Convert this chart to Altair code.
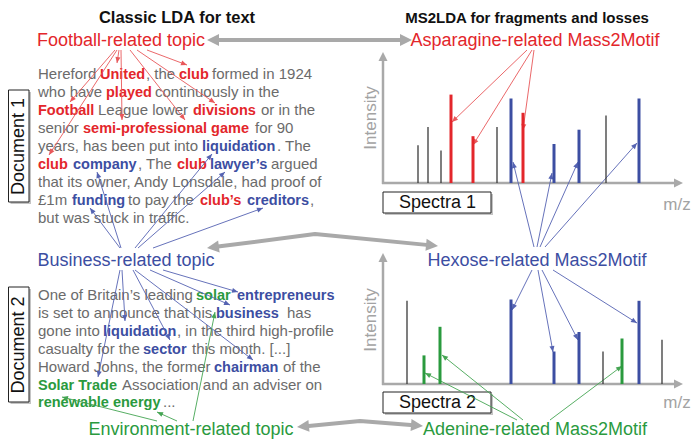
import math
import altair as alt
import pandas as pd

FONT = "Liberation Sans"
RED, BLUE, GREEN = "#e3262b", "#3c4ea2", "#2a9a3e"
TXT_GRAY, LINE_GRAY, LABEL_GRAY = "#6b6b6b", "#a9a9a9", "#a3a3a3"
ARROW_RED, ARROW_BLUE, ARROW_GREEN = "#e8585a", "#5563b2", "#45a553"

# ---------------- spectra (m/z, relative intensity, motif) ----------------
spec1_mz = [35, 45, 58, 68, 90, 114, 128, 140, 171, 196, 223, 256]
spec1_int = [29, 43, 25, 68, 36, 43, 65, 54, 30, 41, 52, 65]
spec1_motif = ["none", "none", "none", "asparagine", "asparagine", "none",
               "hexose", "asparagine", "hexose", "hexose", "none", "hexose"]
spec2_mz = [24, 41, 57, 128, 171, 196, 220, 239, 256, 279]
spec2_int = [64, 22, 44, 65, 25, 40, 25, 35, 64, 34]
spec2_motif = ["none", "adenine", "adenine", "hexose", "hexose", "hexose",
               "none", "adenine", "hexose", "none"]
motif_names = ["none", "asparagine", "hexose", "adenine"]
motif_colors = ["#3a3a3a", RED, BLUE, GREEN]

# ---------------- text content ----------------
title_text = ["Classic LDA for text", "MS2LDA for fragments and losses"]
title_x = [177, 527]
title_y = [22.5, 22.5]
title_size = [16.5, 15]

topic_text = ["Football-related topic", "Asparagine-related Mass2Motif",
              "Business-related topic", "Hexose-related Mass2Motif",
              "Environment-related topic", "Adenine-related Mass2Motif"]
topic_x = [121, 535, 126, 537, 191, 535]
topic_y = [46, 46, 266, 266, 435, 435]
topic_color = [RED, RED, BLUE, BLUE, GREEN, GREEN]

# segments: (text, style, x-start); style n=plain, r/b/g = bold topic colour
doc1_lines = [
    [("Hereford", "n", 38), ("United", "r", 100), (", the", "n", 146), ("club", "r", 179), ("formed in 1924", "n", 212)],
    [("who have", "n", 38), ("played", "r", 106), ("continuously in the", "n", 155)],
    [("Football", "r", 38), ("League lower", "n", 98), ("divisions", "r", 193), ("or in the", "n", 261)],
    [("senior", "n", 38), ("semi-professional game", "r", 83), ("for 90", "n", 255)],
    [("years, has been put into", "n", 38), ("liquidation", "b", 202), (". The", "n", 277)],
    [("club", "r", 38), ("company", "b", 73), (", The", "n", 138), ("club", "r", 177), ("lawyer\u2019s", "b", 210), ("argued", "n", 271)],
    [("that its owner, Andy Lonsdale, had proof of", "n", 38)],
    [("\u00a31m", "n", 38), ("funding", "b", 72), ("to pay the", "n", 128), ("club\u2019s", "r", 200), ("creditors", "b", 247), (",", "n", 310)],
    [("but was stuck in traffic.", "n", 38)],
]
doc1_baseline, doc1_step = 78.5, 18.0

doc2_lines = [
    [("One of Britain\u2019s leading", "n", 38), ("solar", "g", 196), ("entrepreneurs", "b", 237)],
    [("is set to announce that his", "n", 38), ("business", "b", 216), ("has", "n", 287)],
    [("gone into", "n", 38), ("liquidation", "b", 103), (", in the third high-profile", "n", 177)],
    [("casualty for the", "n", 38), ("sector", "b", 143), ("this month. [...]", "n", 192)],
    [("Howard Johns, the former", "n", 38), ("chairman", "b", 214), ("of the", "n", 283)],
    [("Solar Trade", "g", 38), ("Association and an adviser on", "n", 122)],
    [("renewable energy", "g", 38), ("...", "n", 163)],
]
doc2_baseline, doc2_step = 300.0, 17.9

style_color = {"n": TXT_GRAY, "r": RED, "b": BLUE, "g": GREEN}

# thin arrows: start -> tip
thin_arrows = [
    (115, 50, 70, 102, ARROW_RED), (117, 50, 49, 155, ARROW_RED), (119, 50, 117, 63, ARROW_RED),
    (121, 50, 122, 120, ARROW_RED), (130, 50, 185, 120, ARROW_RED), (137, 50, 215, 103, ARROW_RED),
    (147, 50, 187, 65, ARROW_RED),
    (120, 248, 90, 208, ARROW_BLUE), (121, 248, 97, 172, ARROW_BLUE), (135, 248, 212, 154, ARROW_BLUE),
    (138, 248, 225, 172, ARROW_BLUE), (153, 248, 263, 208, ARROW_BLUE),
    (120, 270, 98, 377, ARROW_BLUE), (122, 270, 125, 321, ARROW_BLUE), (133, 270, 170, 340, ARROW_BLUE),
    (135, 270, 253, 360, ARROW_BLUE), (150, 270, 230, 305, ARROW_BLUE), (163, 270, 238, 292, ARROW_BLUE),
    (157, 421, 62, 397, ARROW_GREEN), (177, 421, 157, 412, ARROW_GREEN), (193, 421, 215, 312, ARROW_GREEN),
    (527, 50, 452, 122, ARROW_RED), (532, 50, 473, 145, ARROW_RED), (534, 50, 523, 130, ARROW_RED),
    (534, 247, 513, 162, ARROW_BLUE), (537, 247, 552, 173, ARROW_BLUE), (540, 247, 578, 162, ARROW_BLUE),
    (545, 247, 637, 143, ARROW_BLUE),
    (532, 270, 512, 310, ARROW_BLUE), (538, 270, 553, 352, ARROW_BLUE), (542, 270, 578, 340, ARROW_BLUE),
    (553, 270, 637, 323, ARROW_BLUE),
    (517, 420, 425, 373, ARROW_GREEN), (523, 420, 442, 355, ARROW_GREEN), (550, 420, 622, 366, ARROW_GREEN),
]

# thick grey double arrows (polylines)
link_paths = [
    [(207, 40), (412, 40)],
    [(207, 248), (315, 234), (438, 246)],
    [(297, 427), (360, 421), (423, 426)],
]
# spectrum axes (start -> arrow tip)
axis_arrows = [(383, 184, 383, 52), (382, 183, 683, 183), (383, 385, 383, 253), (382, 384, 683, 384)]

boxes = [  # x, x2, y, y2
    (8.5, 29, 90, 202), (8.5, 29, 287, 402), (383, 491, 192, 213), (383, 491, 392, 413)]
box_text = ["Document 1", "Document 2", "Spectra 1", "Spectra 2"]
box_angle = [270, 270, 0, 0]

axis_label_text = ["Intensity", "Intensity", "m/z", "m/z"]
axis_label_x = [371, 371, 677, 677]
axis_label_y = [118, 320, 210, 408]
axis_label_angle = [270, 270, 0, 0]
axis_label_baseline = ["middle", "middle", "alphabetic", "alphabetic"]

# ---------------- helpers ----------------
XS = alt.Scale(domain=[8, 692], nice=False, zero=False)
YS = alt.Scale(domain=[8, 439], nice=False, zero=False, reverse=True)


def X(f):
    return alt.X(f, type="quantitative", scale=XS, axis=None)


def Y(f):
    return alt.Y(f, type="quantitative", scale=YS, axis=None)


def ang(x1, y1, x2, y2):
    return math.degrees(math.atan2(x2 - x1, -(y2 - y1))) % 360


def shorten(x1, y1, x2, y2, d):
    L = math.hypot(x2 - x1, y2 - y1)
    return x2 - (x2 - x1) / L * d, y2 - (y2 - y1) / L * d


HEAD = "M0,0L-0.42,1L0.42,1Z"
BIGHEAD = "M0,0L-0.5,1L0.5,1Z"

layers = []

# boxes with shadow
bx = pd.DataFrame(boxes, columns=["x", "x2", "y", "y2"])
bx["sx"], bx["sx2"], bx["sy"], bx["sy2"] = bx.x + 2, bx.x2 + 2, bx.y + 2, bx.y2 + 2
bx["text"], bx["angle"] = box_text, box_angle
bx["cx"], bx["cy"] = (bx.x + bx.x2) / 2 + 0.5, (bx.y + bx.y2) / 2 + 0.5
layers.append(alt.Chart(bx).mark_rect(color="#c4c4c4").encode(x=X("sx"), x2="sx2:Q", y=Y("sy"), y2="sy2:Q"))
layers.append(alt.Chart(bx).mark_rect(fill="white", stroke="#222222", strokeWidth=1).encode(
    x=X("x"), x2="x2:Q", y=Y("y"), y2="y2:Q"))
layers.append(alt.Chart(bx).mark_text(font=FONT, fontSize=18, color="#111111", baseline="middle", align="center").encode(
    x=X("cx"), y=Y("cy"), text="text:N", angle=alt.Angle("angle:Q", scale=None)))

# spectrum axes
ax_rows, ax_heads = [], []
for (x1, y1, x2, y2) in axis_arrows:
    ex, ey = shorten(x1, y1, x2, y2, 7)
    ax_rows.append((x1, y1, ex, ey))
    ax_heads.append((x2, y2, ang(x1, y1, x2, y2)))
axd = pd.DataFrame(ax_rows, columns=["x1", "y1", "x2", "y2"])
axh = pd.DataFrame(ax_heads, columns=["x", "y", "ang"])
layers.append(alt.Chart(axd).mark_rule(color=LINE_GRAY, strokeWidth=2.5).encode(
    x=X("x1"), y=Y("y1"), x2="x2:Q", y2="y2:Q"))
layers.append(alt.Chart(axh).mark_point(shape=BIGHEAD, filled=True, size=324, opacity=1, strokeWidth=0,
                                         color=LINE_GRAY).encode(
    x=X("x"), y=Y("y"), angle=alt.Angle("ang:Q", scale=None)))

al = pd.DataFrame({"text": axis_label_text, "x": axis_label_x, "y": axis_label_y, "angle": axis_label_angle})
for bl in ["middle", "alphabetic"]:
    sub = al[[b == bl for b in axis_label_baseline]]
    layers.append(alt.Chart(sub).mark_text(font=FONT, fontSize=17, color=LABEL_GRAY, baseline=bl, align="center").encode(
        x=X("x"), y=Y("y"), text="text:N", angle=alt.Angle("angle:Q", scale=None)))

# thick grey links
lk_rows, lk_heads = [], []
for i, pts in enumerate(link_paths):
    pts = list(pts)
    a = shorten(pts[1][0], pts[1][1], pts[0][0], pts[0][1], 9)
    b = shorten(pts[-2][0], pts[-2][1], pts[-1][0], pts[-1][1], 9)
    draw = [a] + pts[1:-1] + [b]
    for j, (px, py) in enumerate(draw):
        lk_rows.append((i, j, px, py))
    lk_heads.append((pts[0][0], pts[0][1], ang(pts[1][0], pts[1][1], pts[0][0], pts[0][1])))
    lk_heads.append((pts[-1][0], pts[-1][1], ang(pts[-2][0], pts[-2][1], pts[-1][0], pts[-1][1])))
lkd = pd.DataFrame(lk_rows, columns=["id", "ord", "x", "y"])
lkh = pd.DataFrame(lk_heads, columns=["x", "y", "ang"])
layers.append(alt.Chart(lkd).mark_line(color=LINE_GRAY, strokeWidth=4, strokeJoin="round").encode(
    x=X("x"), y=Y("y"), detail="id:N", order="ord:Q"))
layers.append(alt.Chart(lkh).mark_point(shape=BIGHEAD, filled=True, size=576, opacity=1, strokeWidth=0,
                                         color=LINE_GRAY).encode(
    x=X("x"), y=Y("y"), angle=alt.Angle("ang:Q", scale=None)))

# titles and topic labels
td = pd.DataFrame({"text": title_text, "x": title_x, "y": title_y, "size": title_size})
layers.append(alt.Chart(td).mark_text(font=FONT, fontWeight="bold", color="#111111", align="center",
                                      baseline="alphabetic").encode(
    x=X("x"), y=Y("y"), text="text:N", size=alt.Size("size:Q", scale=None)))
tp = pd.DataFrame({"text": topic_text, "x": topic_x, "y": topic_y, "color": topic_color})
layers.append(alt.Chart(tp).mark_text(font=FONT, fontSize=18, align="center", baseline="alphabetic").encode(
    x=X("x"), y=Y("y"), text="text:N", color=alt.Color("color:N", scale=None)))

# document body text
seg_rows = []
for lines, base, step in [(doc1_lines, doc1_baseline, doc1_step), (doc2_lines, doc2_baseline, doc2_step)]:
    for i, line in enumerate(lines):
        for (t, s, x) in line:
            seg_rows.append((t, s, x, base + i * step, style_color[s]))
sg = pd.DataFrame(seg_rows, columns=["text", "style", "x", "y", "color"])
layers.append(alt.Chart(sg[sg["style"] == "n"]).mark_text(font=FONT, fontSize=15, align="left", baseline="alphabetic").encode(
    x=X("x"), y=Y("y"), text="text:N", color=alt.Color("color:N", scale=None)))
layers.append(alt.Chart(sg[sg["style"] != "n"]).mark_text(font=FONT, fontSize=14.5, fontWeight="bold", align="left",
                                                          baseline="alphabetic").encode(
    x=X("x"), y=Y("y"), text="text:N", color=alt.Color("color:N", scale=None)))

# thin arrows
ta = pd.DataFrame(thin_arrows, columns=["x1", "y1", "x2", "y2", "color"])
ta["ang"] = [ang(r.x1, r.y1, r.x2, r.y2) for r in ta.itertuples()]
layers.append(alt.Chart(ta).mark_rule(strokeWidth=1, opacity=0.9).encode(
    x=X("x1"), y=Y("y1"), x2="x2:Q", y2="y2:Q", color=alt.Color("color:N", scale=None)))
layers.append(alt.Chart(ta).mark_point(shape=HEAD, filled=True, size=144, opacity=1, strokeWidth=0).encode(
    x=X("x2"), y=Y("y2"), angle=alt.Angle("ang:Q", scale=None), color=alt.Color("color:N", scale=None)))

annot = alt.layer(*layers)

# spectra bars through their own scales
SX = alt.Scale(domain=[0, 300], range=[375, 675], nice=False, zero=False)
MC = alt.Scale(domain=motif_names, range=motif_colors)


def spectrum(mz, inten, motif, yrange):
    df = pd.DataFrame({"mz": mz, "intensity": inten, "motif": motif, "base": 0})
    sy = alt.Scale(domain=[0, 100], range=yrange, nice=False, zero=False)
    enc = dict(x=alt.X("mz:Q", scale=SX, axis=None), y=alt.Y("intensity:Q", scale=sy, axis=None), y2="base:Q",
               color=alt.Color("motif:N", scale=MC, legend=None))
    thin = alt.Chart(df).transform_filter(alt.datum.motif == "none").mark_rule(strokeWidth=1.3).encode(**enc)
    thick = alt.Chart(df).transform_filter(alt.datum.motif != "none").mark_rule(strokeWidth=3).encode(**enc)
    return alt.layer(thin, thick)


spec1 = spectrum(spec1_mz, spec1_int, spec1_motif, [175, 45])
spec2 = spectrum(spec2_mz, spec2_int, spec2_motif, [376, 246])

chart = alt.layer(annot, spec1, spec2).resolve_scale(x="independent", y="independent", color="independent").properties(
    width=684, height=431, padding=0, autosize=alt.AutoSizeParams(type="none")
).configure_view(stroke=None)

chart.save("out.html", embed_options={"renderer": "svg", "actions": False})
